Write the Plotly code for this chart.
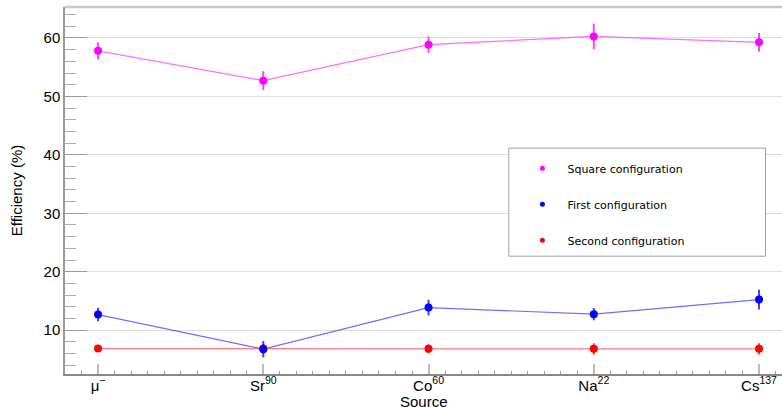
import plotly.graph_objects as go

categories = ["μ<sup>−</sup>", "Sr<sup>90</sup>", "Co<sup>60</sup>", "Na<sup>22</sup>", "Cs<sup>137</sup>"]
x_idx = list(range(len(categories)))

square_vals = [57.8, 52.7, 58.85, 60.27, 59.25]
square_err = [1.45, 1.6, 1.4, 2.2, 1.6]
first_vals = [12.67, 6.75, 13.87, 12.74, 15.24]
first_err = [1.15, 1.4, 1.35, 1.05, 1.7]
second_vals = [6.85, 6.85, 6.8, 6.8, 6.8]
second_err = [0.57, 0.8, 0.77, 0.97, 0.97]

series = [
    ("Square configuration", square_vals, square_err, "#ff00ff", "rgba(255,60,255,0.75)", "rgba(255,0,255,0.75)"),
    ("First configuration", first_vals, first_err, "#0000ff", "rgba(60,60,255,0.75)", "rgba(0,0,255,0.75)"),
    ("Second configuration", second_vals, second_err, "#ff0000", "rgba(255,80,80,0.75)", "rgba(255,0,0,0.75)"),
]

fig = go.Figure()
# connecting lines
for name, vals, errs, mcol, lcol, ecol in series:
    fig.add_trace(go.Scatter(
        x=x_idx, y=vals, name=name, mode="lines", showlegend=False,
        line=dict(color=lcol, width=1.2, simplify=False), hoverinfo="skip",
    ))
# points with error bars (reverse order so the first configuration sits on top of the second)
for name, vals, errs, mcol, lcol, ecol in reversed(series):
    fig.add_trace(go.Scatter(
        x=x_idx, y=vals, name=name, mode="markers", showlegend=False,
        marker=dict(color=mcol, size=8),
        error_y=dict(type="data", array=errs, visible=True, color=ecol, thickness=2, width=0),
    ))
# legend entries (small dot only)
for i, (name, vals, errs, mcol, lcol, ecol) in enumerate(series):
    fig.add_trace(go.Scatter(
        x=[None], y=[None], name=name, mode="markers", legendgroup=f"g{i}",
        marker=dict(color=mcol, size=5),
    ))

fig.update_layout(
    width=782, height=407,
    margin=dict(l=65, r=0, t=7, b=33),
    paper_bgcolor="white", plot_bgcolor="white",
    font=dict(family="Liberation Sans, Arial, sans-serif", size=15, color="black"),
    showlegend=True,
    legend=dict(
        x=0.631, y=0.60, xanchor="left", yanchor="top",
        bgcolor="rgba(0,0,0,0)", borderwidth=0,
        font=dict(family="DejaVu Sans", size=11, color="black"),
        tracegroupgap=17, itemwidth=40,
    ),
    shapes=[
        dict(type="rect", xref="paper", yref="paper", x0=0.619, x1=0.977, y0=0.321, y1=0.6155,
             line=dict(color="#a0a0a0", width=1), fillcolor="white", layer="above"),
        dict(type="line", xref="paper", yref="paper", x0=0, x1=1, y0=1, y1=1,
             line=dict(color="#c8c8c8", width=2.5), layer="above"),
    ],
    annotations=[
        dict(text="Source", xref="paper", yref="paper", x=0.5, y=-0.103,
             xanchor="center", yanchor="bottom", showarrow=False,
             font=dict(size=15, color="black")),
    ],
)

fig.update_xaxes(
    range=[-0.2, 4.139], automargin=False,
    tickmode="array", tickvals=x_idx, ticktext=categories,
    ticks="inside", ticklen=10, tickwidth=1.5, tickcolor="#bbbbbb",
    showline=True, linecolor="#888888", linewidth=1.5,
    showgrid=False, zeroline=False,
    minor=dict(dtick=0.1, ticks="inside", ticklen=3, tickcolor="#999999", tickwidth=1, showgrid=False),
    ticklabelstandoff=-3,
    tickfont=dict(size=15),
)
fig.update_yaxes(
    range=[2.5, 65.3], automargin=False,
    tickmode="linear", tick0=0, dtick=10,
    ticks="inside", ticklen=22, tickwidth=1.2, tickcolor="#999999",
    showline=True, linecolor="#999999", linewidth=1.5,
    showgrid=True, gridcolor="#dddddd", gridwidth=1.2,
    zeroline=False,
    minor=dict(dtick=2, ticks="inside", ticklen=11, tickcolor="#aaaaaa", tickwidth=1.2, showgrid=False),
    title=dict(text="Efficiency (%)", standoff=17, font=dict(size=15)),
    tickfont=dict(size=15),
)

fig.write_html("out.html", config={"displayModeBar": False},
               post_script="document.body.style.margin='0px';")
